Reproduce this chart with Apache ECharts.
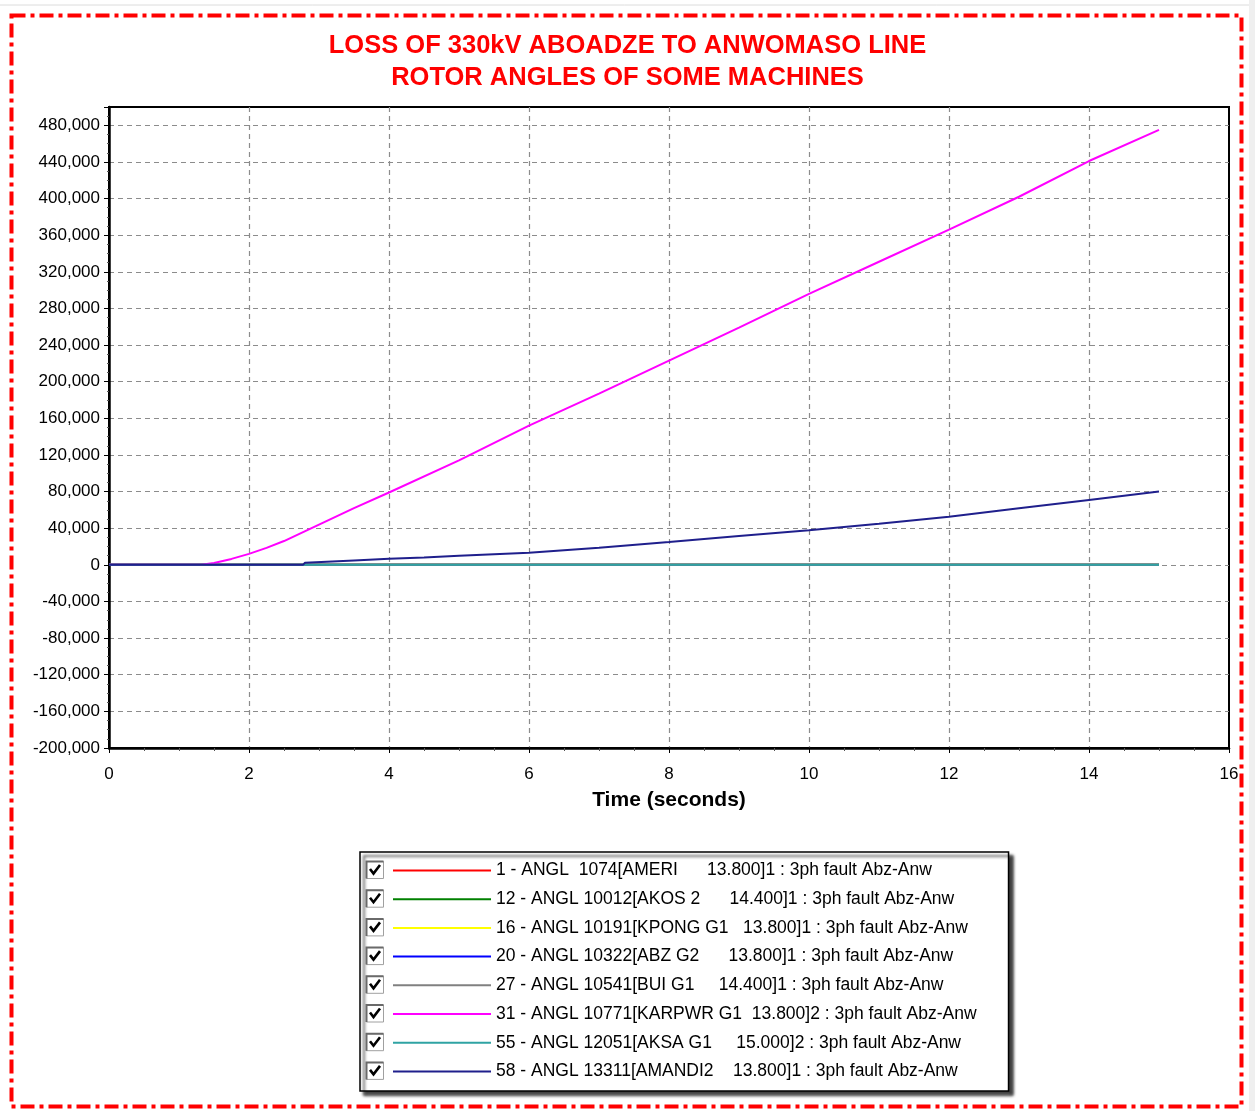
<!DOCTYPE html>
<html>
<head>
<meta charset="utf-8">
<script src="https://cdn.jsdelivr.net/npm/echarts@6/dist/echarts.min.js"></script>
<style>
html,body{margin:0;padding:0;background:#fff;}
#chart{width:1255px;height:1111px;}
</style>
</head>
<body>
<div id="chart"></div>
<script>
// ---- data ----
const titleLines = ['LOSS OF 330kV ABOADZE TO ANWOMASO LINE', 'ROTOR ANGLES OF SOME MACHINES'];
const xAxisName = 'Time (seconds)';

const seriesNames = [
  '1 - ANGL  1074[AMERI      13.800]1 : 3ph fault Abz-Anw',
  '12 - ANGL 10012[AKOS 2      14.400]1 : 3ph fault Abz-Anw',
  '16 - ANGL 10191[KPONG G1   13.800]1 : 3ph fault Abz-Anw',
  '20 - ANGL 10322[ABZ G2      13.800]1 : 3ph fault Abz-Anw',
  '27 - ANGL 10541[BUI G1     14.400]1 : 3ph fault Abz-Anw',
  '31 - ANGL 10771[KARPWR G1  13.800]2 : 3ph fault Abz-Anw',
  '55 - ANGL 12051[AKSA G1     15.000]2 : 3ph fault Abz-Anw',
  '58 - ANGL 13311[AMANDI2    13.800]1 : 3ph fault Abz-Anw'
];
const seriesColors = ['#ff0000', '#008000', '#ffff00', '#0000ff', '#808080', '#ff00ff', '#2fa3a3', '#1f1f8c'];

// flat machines (values near zero at this scale)
const flatTime = [0, 15];
const flatValues = [0, 0];

// 31 - KARPWR G1 (magenta)
const karpwrTime = [0, 1.32, 1.5, 1.75, 2, 2.25, 2.5, 2.75, 3, 3.5, 4, 5, 6, 7, 8, 9, 10, 11, 12, 13, 14, 15];
const karpwrValues = [0, 0, 2000, 6500, 12000, 18500, 26000, 35000, 44000, 62000, 79000, 114000, 152000, 187000, 223000, 259000, 296000, 331000, 366000, 402000, 441000, 475000];

// 58 - AMANDI2 (navy)
const amandiTime = [0, 2.77, 2.8, 3.5, 4, 4.5, 5, 5.5, 6, 7, 8, 9, 10, 11, 12, 13, 14, 15];
const amandiValues = [0, 0, 2200, 4800, 6600, 8100, 9900, 11700, 13200, 18700, 25000, 31600, 37800, 45000, 52500, 61700, 70800, 80000];

const xTicks = {min: 0, max: 16, interval: 2};
const yTicks = {min: -200000, max: 500000, interval: 40000};

// ---- build ----
function pairs(t, v) { return t.map((x, i) => [x, v[i]]); }
const seriesData = [
  pairs(flatTime, flatValues),
  pairs(flatTime, flatValues),
  pairs(flatTime, flatValues),
  pairs(flatTime, flatValues),
  pairs(flatTime, flatValues),
  pairs(karpwrTime, karpwrValues),
  pairs(flatTime, flatValues),
  pairs(amandiTime, amandiValues)
];

const FONT = '"Liberation Sans", Arial, sans-serif';
const chart = echarts.init(document.getElementById('chart'), null, {renderer: 'canvas'});

const graphics = [
  {type: 'rect', z: 100, silent: true, shape: {x: 1249, y: 0, width: 6, height: 1111}, style: {fill: '#efefef'}},
  {type: 'line', z: 100, silent: true, shape: {x1: 0, y1: 5, x2: 1249, y2: 5}, style: {stroke: '#dcdcdc', lineWidth: 1}},
  {type: 'rect', z: 100, silent: true, shape: {x: 11.5, y: 15.5, width: 1230, height: 1091},
   style: {fill: 'none', stroke: '#ff0000', lineWidth: 4, lineDash: [14, 5, 4, 5]}}
];
const rowTop = 870, rowStep = 28.7;
seriesNames.forEach((n, i) => {
  const cy = rowTop + i * rowStep;
  graphics.push({type: 'rect', z: 100, silent: true, shape: {x: 366.5, y: cy - 8.5, width: 17, height: 17},
    style: {fill: '#fff', stroke: '#a0a0a0', lineWidth: 1}});
  graphics.push({type: 'polyline', z: 101, silent: true, shape: {points: [[366.5, cy + 8.5], [366.5, cy - 8.5], [383.5, cy - 8.5]]},
    style: {fill: 'none', stroke: '#6a6a6a', lineWidth: 2}});
  graphics.push({type: 'polyline', z: 101, silent: true, shape: {points: [[370, cy - 1], [373.5, cy + 3.5], [380, cy - 5]]},
    style: {fill: 'none', stroke: '#000', lineWidth: 2.6}});
});

const option = {
  backgroundColor: '#ffffff',
  animation: false,
  title: {
    text: titleLines.join('\n'),
    left: 'center',
    top: 30,
    padding: 0,
    textStyle: {color: '#ff0000', fontSize: 25.5, fontWeight: 'bold', fontFamily: FONT, lineHeight: 32}
  },
  legend: {
    orient: 'vertical',
    left: 360,
    top: 852,
    padding: [9, 32, 10, 33],
    itemGap: 9.7,
    itemWidth: 98,
    itemHeight: 2,
    icon: 'rect',
    selectedMode: false,
    backgroundColor: '#ffffff',
    borderColor: '#000000',
    borderWidth: 1.5,
    shadowColor: 'rgba(0,0,0,0.75)',
    shadowBlur: 3,
    shadowOffsetX: 4,
    shadowOffsetY: 4,
    textStyle: {color: '#000', fontSize: 17.5, fontFamily: FONT, lineHeight: 19},
    data: seriesNames
  },
  grid: {
    left: 109, top: 107, right: 26, bottom: 363,
    show: true, borderColor: '#000', borderWidth: 2, backgroundColor: '#fff'
  },
  xAxis: {
    type: 'value',
    min: xTicks.min, max: xTicks.max, interval: xTicks.interval,
    name: xAxisName,
    nameLocation: 'middle',
    nameGap: 42,
    nameTextStyle: {color: '#000', fontSize: 21, fontWeight: 'bold', fontFamily: FONT},
    axisLine: {show: true, onZero: false, lineStyle: {color: '#000', width: 2.5}},
    axisTick: {show: true, length: 5, lineStyle: {color: '#000', width: 1}},
    minorTick: {show: true, splitNumber: 4, length: 3, lineStyle: {color: '#555', width: 1}},
    axisLabel: {color: '#000', fontSize: 17, fontFamily: FONT, margin: 18},
    splitLine: {show: true, showMinLine: false, showMaxLine: false, lineStyle: {color: '#8c8c8c', width: 1.2, type: [5, 4]}}
  },
  yAxis: {
    type: 'value',
    min: yTicks.min, max: yTicks.max, interval: yTicks.interval,
    axisLine: {show: true, onZero: false, lineStyle: {color: '#000', width: 2.5}},
    axisTick: {show: true, length: 5, lineStyle: {color: '#000', width: 1}},
    minorTick: {show: true, splitNumber: 4, length: 2, lineStyle: {color: '#555', width: 1}},
    axisLabel: {color: '#000', fontSize: 17, fontFamily: FONT, margin: 9, showMaxLabel: false,
      formatter: v => v.toLocaleString('en-US')},
    splitLine: {show: true, showMinLine: false, showMaxLine: false, lineStyle: {color: '#8c8c8c', width: 1.2, type: [5, 4]}}
  },
  series: seriesNames.map((n, i) => ({
    name: n,
    type: 'line',
    data: seriesData[i],
    symbol: 'none',
    color: seriesColors[i],
    lineStyle: {color: seriesColors[i], width: 2},
    z: 2 + i
  })),
  graphic: graphics
};
chart.setOption(option);
</script>
</body>
</html>
